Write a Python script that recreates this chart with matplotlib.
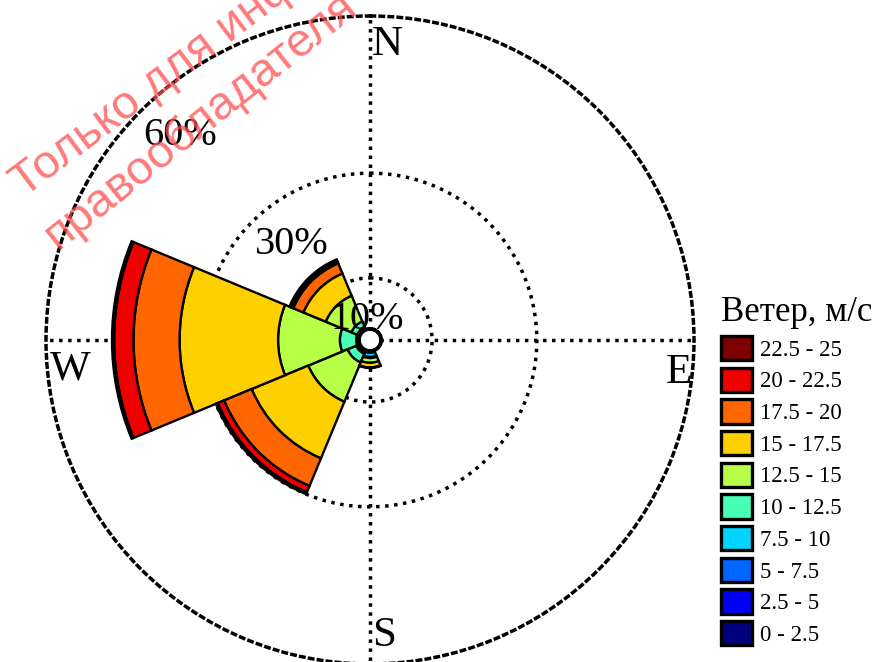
import numpy as np
import matplotlib
matplotlib.use("Agg")
import matplotlib.pyplot as plt
from matplotlib.patches import Patch

# Wind directions (compass sectors, 45 degrees wide)
directions = ["N", "NE", "E", "SE", "S", "SW", "W", "NW"]
direction_deg = [0, 45, 90, 135, 180, 225, 270, 315]

# Wind speed classes, m/s
speed_bins = ["0 - 2.5", "2.5 - 5", "5 - 7.5", "7.5 - 10", "10 - 12.5",
              "12.5 - 15", "15 - 17.5", "17.5 - 20", "20 - 22.5", "22.5 - 25"]
speed_colors = ["#00007f", "#0000f4", "#0066ff", "#00d4ff", "#48ffb8",
                "#b8ff48", "#ffd000", "#ff6600", "#ee0000", "#7f0000"]

# Frequency (%) of each speed class per direction: N, NE, E, SE, S, SW, W, NW
freq_0_2_5   = [0.1, 0.1, 0.1, 0.1, 0.1, 0.1, 0.1, 0.1]
freq_2_5_5   = [0.1, 0.1, 0.1, 0.1, 0.2, 0.2, 0.2, 0.2]
freq_5_7_5   = [0.1, 0.1, 0.1, 0.1, 0.3, 0.3, 0.2, 0.2]
freq_7_5_10  = [0.1, 0.1, 0.1, 0.1, 0.8, 0.4, 0.3, 0.3]
freq_10_12_5 = [0.0, 0.0, 0.0, 0.0, 0.2, 1.8, 3.1, 1.2]
freq_12_5_15 = [0.0, 0.0, 0.0, 0.0, 0.9, 8.1, 11.8, 5.3]
freq_15_17_5 = [0.0, 0.0, 0.0, 0.0, 0.9, 11.7, 18.8, 4.6]
freq_17_5_20 = [0.0, 0.0, 0.0, 0.0, 0.1, 5.7, 8.8, 2.1]
freq_20_22_5 = [0.0, 0.0, 0.0, 0.0, 0.0, 1.3, 3.7, 0.4]
freq_22_5_25 = [0.0, 0.0, 0.0, 0.0, 0.0, 0.4, 0.4, 0.4]

freq_table = [freq_0_2_5, freq_2_5_5, freq_5_7_5, freq_7_5_10, freq_10_12_5,
              freq_12_5_15, freq_15_17_5, freq_17_5_20, freq_20_22_5, freq_22_5_25]

ring_values = [10, 30, 60]
ring_labels = ["10%", "30%", "60%"]

serif = ["Liberation Serif", "DejaVu Serif"]

fig = plt.figure(figsize=(8.76, 6.62), dpi=100)
ax = fig.add_axes([46 / 876, (662 - 664) / 662, 648 / 876, 648 / 662],
                  projection="polar")
ax.set_theta_zero_location("N")
ax.set_theta_direction(-1)
ax.set_rorigin(-1.85)
ax.set_ylim(0, 60)
ax.set_axisbelow(True)

theta = np.deg2rad(direction_deg)
width = np.deg2rad(45)
bottom = np.zeros(len(directions))
for values, color in zip(freq_table, speed_colors):
    values = np.asarray(values)
    mask = values > 0
    ax.bar(theta[mask], values[mask], width=width, bottom=bottom[mask],
           color=color, edgecolor="black", linewidth=1.7, zorder=3)
    bottom = bottom + values

dotted = (0, (1, 1.6))
ax.set_thetagrids([0, 90, 180, 270], labels=[])
ax.set_rgrids(ring_values[:2], labels=[])
ax.grid(True, color="black", linestyle=dotted, linewidth=2.5)
ax.spines["polar"].set_linestyle(dotted)
ax.spines["polar"].set_linewidth(2.5)
ax.tick_params(length=0)

# Compass labels
compass = [("N", 0.527, 0.955), ("E", 0.976, 0.450),
           ("S", 0.521, 0.043), ("W", 0.037, 0.455)]
for txt, x, y in compass:
    ax.text(x, y, txt, transform=ax.transAxes, ha="center", va="center",
            fontsize=31, family=serif, zorder=5)

# Ring labels
ring_pos = [(0.495, 0.531), (0.380, 0.647), (0.207, 0.815)]
for txt, (x, y) in zip(ring_labels, ring_pos):
    ax.text(x, y, txt, transform=ax.transAxes, ha="center", va="center",
            fontsize=29, family=serif, zorder=5)

# Legend
handles = [Patch(facecolor=c, edgecolor="black", linewidth=2.4)
           for c in speed_colors][::-1]
leg = fig.legend(handles, speed_bins[::-1], loc="upper left",
                 bbox_to_anchor=(721 / 876, 1 - 296 / 662),
                 frameon=False, title="Ветер, м/с", alignment="left",
                 prop={"family": serif, "size": 16.5},
                 handlelength=1.35, handleheight=1.25, handletextpad=0.35,
                 labelspacing=0.3, borderpad=0.0, borderaxespad=0.0)
leg.get_title().set_fontfamily(serif)
leg.get_title().set_fontsize(25)

# Watermark
mark = dict(color="#ff4d4d", alpha=0.75, fontsize=34,
            family=["Liberation Sans", "DejaVu Sans"],
            rotation_mode="anchor", ha="left", va="baseline")
fig.text(24 / 876, 1 - 198 / 662, "Только для информации", rotation=37, **mark)
fig.text(58 / 876, 1 - 250 / 662, "правообладателя", rotation=38.5, **mark)

fig.savefig("out.png", dpi=100)
